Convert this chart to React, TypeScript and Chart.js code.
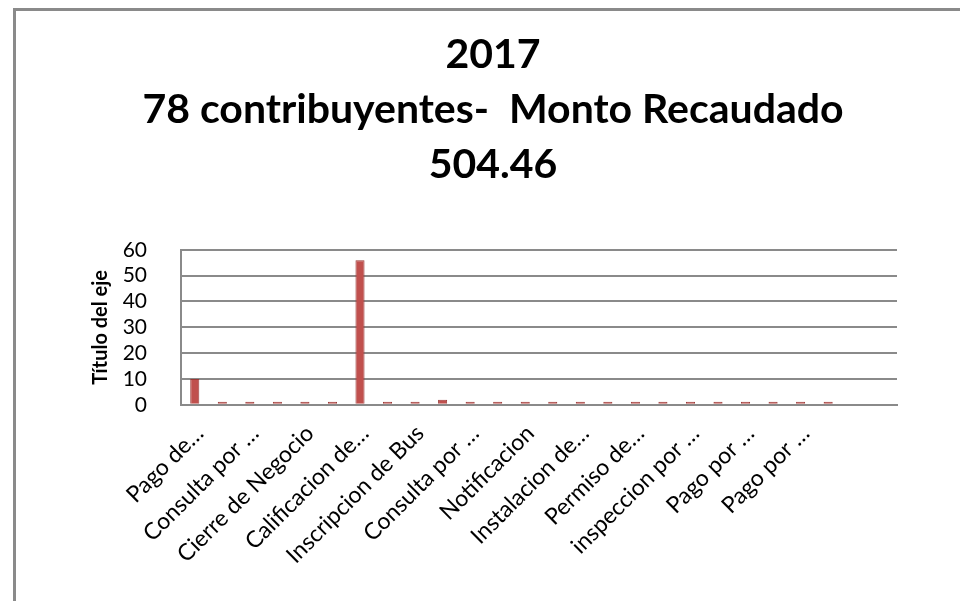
import React, { useEffect, useRef } from "react";
import { Chart, registerables } from "chart.js";

Chart.register(...registerables);

const titleLines = ["2017", "78 contribuyentes-  Monto Recaudado", "504.46"];
const yAxisTitle = "Título del eje";
const categories = [
  "Pago de…", "", "Consulta por …", "", "Cierre de Negocio", "", "Calificacion de…", "",
  "Inscripcion de Bus", "", "Consulta por …", "", "Notificacion", "", "Instalacion de…", "",
  "Permiso de…", "", "inspeccion por …", "", "Pago por …", "", "Pago por …", "", "", "",
];
const values: (number | null)[] = [
  10, 0, 0, 0, 0, 0, 56, 0, 0, 2, 0, 0, 0, 1, 0, 0, 0, 0, 0, 0, 0, 0, 0, 0, null, null,
];
const yTicks = [0, 10, 20, 30, 40, 50, 60];

const FONT = "Lato, 'Open Sans', sans-serif";

export default function App() {
  const ref = useRef<HTMLCanvasElement>(null);
  useEffect(() => {
    if (!ref.current) return;
    const chart = new Chart(ref.current, {
      type: "bar",
      data: {
        labels: categories,
        datasets: [
          {
            data: values,
            backgroundColor: "#c0504d",
            borderColor: "#9a3936",
            borderWidth: 1,
            barPercentage: 0.33,
            categoryPercentage: 1,
            minBarLength: 3,
          },
        ],
      },
      options: {
        animation: false,
        responsive: false,
        maintainAspectRatio: false,
        layout: { autoPadding: false, padding: { left: 89, right: 63, top: 27, bottom: 17 } },
        plugins: {
          legend: { display: false },
          tooltip: { enabled: false },
          title: {
            display: true,
            text: titleLines,
            color: "#000",
            font: { family: FONT, size: 41, weight: "bold", lineHeight: 1.34 },
            padding: { top: 0, bottom: 58 },
          },
        },
        scales: {
          x: {
            afterFit: (s: any) => {
              s.paddingLeft = 0;
            },
            grid: { display: false, drawTicks: false },
            border: { display: true, color: "#8a8a8a", width: 2 },
            ticks: {
              autoSkip: false,
              maxRotation: 45,
              minRotation: 45,
              color: "#000",
              font: { family: FONT, size: 23 },
              padding: 15,
              labelOffset: 5,
            },
          },
          y: {
            min: 0,
            max: 60,
            afterBuildTicks: (axis: any) => {
              axis.ticks = yTicks.map((v) => ({ value: v }));
            },
            afterFit: (s: any) => {
              s.width = 92;
            },
            grid: { color: "#8a8a8a", lineWidth: 2, drawTicks: false },
            border: { display: true, color: "#8a8a8a", width: 2 },
            ticks: {
              autoSkip: false,
              color: "#000",
              font: { family: FONT, size: 21, lineHeight: 1 },
              padding: 34,
            },
            title: {
              display: true,
              text: yAxisTitle,
              color: "#000",
              font: { family: FONT, size: 20, weight: "bold" },
              padding: { top: 0, bottom: 10 },
            },
          },
        },
      },
    });
    return () => chart.destroy();
  }, []);
  return (
    <div style={{ position: "fixed", left: 0, top: 0, width: 960, height: 601, background: "#fff", overflow: "hidden" }}>
      <div
        style={{
          position: "absolute",
          left: 13,
          top: 8,
          width: 1000,
          height: 700,
          borderLeft: "3px solid #8a8a8a",
          borderTop: "3px solid #8a8a8a",
        }}
      />
      <canvas ref={ref} width={960} height={601} style={{ position: "absolute", left: 0, top: 0 }} />
    </div>
  );
}
